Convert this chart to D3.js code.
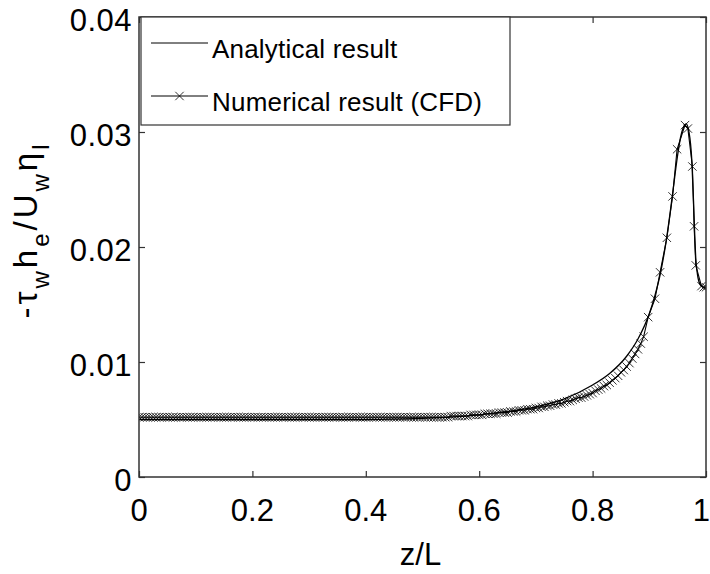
<!DOCTYPE html>
<html>
<head>
<meta charset="utf-8">
<script src="https://cdn.jsdelivr.net/npm/d3@7"></script>
<style>
  html, body { margin: 0; padding: 0; background: #fff; }
  svg { display: block; }
  text { font-family: "Liberation Sans", Arial, Helvetica, sans-serif; fill: #000; }
</style>
</head>
<body>
<svg id="chart" width="710" height="574"></svg>
<script>
// ---------- data ----------
const xTicks = [0, 0.2, 0.4, 0.6, 0.8, 1];
const xTickLabels = ["0", "0.2", "0.4", "0.6", "0.8", "1"];
const yTicks = [0, 0.01, 0.02, 0.03, 0.04];
const yTickLabels = ["0", "0.01", "0.02", "0.03", "0.04"];
const seriesNames = ["Analytical result", "Numerical result (CFD)"];
const xTitle = "z/L";

// Analytical result (solid line)
const analyticZ = [0, 0.1, 0.2, 0.3, 0.4, 0.5, 0.55, 0.6, 0.65, 0.7, 0.75, 0.8, 0.83, 0.86, 0.88, 0.9,
  0.91, 0.92, 0.93, 0.94, 0.95, 0.955, 0.96, 0.965, 0.97, 0.975, 0.978, 0.98, 0.982, 0.985, 0.99, 0.995, 1.0];
const analyticV = [0.0050, 0.0050, 0.0050, 0.0050, 0.0050, 0.0051, 0.0052, 0.0054, 0.0057, 0.0061, 0.0068, 0.0080, 0.0090, 0.0105, 0.0120, 0.0142,
  0.0158, 0.0178, 0.0206, 0.0242, 0.0280, 0.0295, 0.0304, 0.0307, 0.0300, 0.0275, 0.0240, 0.0212, 0.0190, 0.0176, 0.0167, 0.0165, 0.0164];

// Numerical result (CFD), line with x markers
const cfdZ = [
  0.000, 0.005, 0.010, 0.015, 0.020, 0.025, 0.030, 0.035, 0.040, 0.045,
  0.050, 0.055, 0.060, 0.065, 0.070, 0.075, 0.080, 0.085, 0.090, 0.095,
  0.100, 0.105, 0.110, 0.115, 0.120, 0.125, 0.130, 0.135, 0.140, 0.145,
  0.150, 0.155, 0.160, 0.165, 0.170, 0.175, 0.180, 0.185, 0.190, 0.195,
  0.200, 0.205, 0.210, 0.215, 0.220, 0.225, 0.230, 0.235, 0.240, 0.245,
  0.250, 0.255, 0.260, 0.265, 0.270, 0.275, 0.280, 0.285, 0.290, 0.295,
  0.300, 0.305, 0.310, 0.315, 0.320, 0.325, 0.330, 0.335, 0.340, 0.345,
  0.350, 0.355, 0.360, 0.365, 0.370, 0.375, 0.380, 0.385, 0.390, 0.395,
  0.400, 0.405, 0.410, 0.415, 0.420, 0.425, 0.430, 0.435, 0.440, 0.445,
  0.450, 0.455, 0.460, 0.465, 0.470, 0.475, 0.480, 0.485, 0.490, 0.495,
  0.500, 0.505, 0.510, 0.515, 0.520, 0.525, 0.530, 0.535, 0.540, 0.545,
  0.550, 0.555, 0.560, 0.565, 0.570, 0.575, 0.580, 0.585, 0.590, 0.595,
  0.600, 0.605, 0.610, 0.615, 0.620, 0.625, 0.630, 0.635, 0.640, 0.645,
  0.650, 0.655, 0.660, 0.665, 0.670, 0.675, 0.680, 0.685, 0.690, 0.695,
  0.700, 0.705, 0.710, 0.715, 0.720, 0.725, 0.730, 0.735, 0.740, 0.745,
  0.750, 0.755, 0.760, 0.765, 0.770, 0.775, 0.780, 0.785, 0.790, 0.795,
  0.800, 0.805, 0.810, 0.815, 0.820, 0.825, 0.830, 0.835, 0.840, 0.845,
  0.850, 0.855, 0.860, 0.865, 0.870, 0.875, 0.880, 0.885, 0.890,
  0.898, 0.910, 0.919, 0.931, 0.941, 0.949, 0.963, 0.968, 0.976, 0.979, 0.982, 0.992, 0.996, 1.000
];
const cfdV = [
  0.0052, 0.0052, 0.0052, 0.0052, 0.0052, 0.0052, 0.0052, 0.0052, 0.0052, 0.0052,
  0.0052, 0.0052, 0.0052, 0.0052, 0.0052, 0.0052, 0.0052, 0.0052, 0.0052, 0.0052,
  0.0052, 0.0052, 0.0052, 0.0052, 0.0052, 0.0052, 0.0052, 0.0052, 0.0052, 0.0052,
  0.0052, 0.0052, 0.0052, 0.0052, 0.0052, 0.0052, 0.0052, 0.0052, 0.0052, 0.0052,
  0.0052, 0.0052, 0.0052, 0.0052, 0.0052, 0.0052, 0.0052, 0.0052, 0.0052, 0.0052,
  0.0052, 0.0052, 0.0052, 0.0052, 0.0052, 0.0052, 0.0052, 0.0052, 0.0052, 0.0052,
  0.0052, 0.0052, 0.0052, 0.0052, 0.0052, 0.0052, 0.0052, 0.0052, 0.0052, 0.0052,
  0.0052, 0.0052, 0.0052, 0.0052, 0.0052, 0.0052, 0.0052, 0.0052, 0.0052, 0.0052,
  0.0052, 0.0052, 0.0052, 0.0052, 0.0052, 0.0052, 0.0052, 0.0052, 0.0052, 0.0052,
  0.0052, 0.0052, 0.0052, 0.0052, 0.0052, 0.0052, 0.0052, 0.0052, 0.0052, 0.0052,
  0.0052, 0.0052, 0.0052, 0.0052, 0.0052, 0.0052, 0.0052, 0.0052, 0.0052, 0.0052,
  0.0053, 0.0053, 0.0053, 0.0053, 0.0053, 0.0053, 0.0053, 0.0054, 0.0054, 0.0054,
  0.0054, 0.0054, 0.0055, 0.0055, 0.0055, 0.0055, 0.0055, 0.0056, 0.0056, 0.0056,
  0.0056, 0.0057, 0.0057, 0.0057, 0.0058, 0.0058, 0.0058, 0.0059, 0.0059, 0.0059,
  0.0060, 0.0060, 0.0061, 0.0061, 0.0062, 0.0062, 0.0063, 0.0063, 0.0064, 0.0064,
  0.0065, 0.0066, 0.0066, 0.0067, 0.0068, 0.0069, 0.0069, 0.0070, 0.0071, 0.0072,
  0.0073, 0.0075, 0.0076, 0.0077, 0.0079, 0.0080, 0.0082, 0.0084, 0.0086, 0.0088,
  0.0091, 0.0093, 0.0096, 0.0099, 0.0103, 0.0107, 0.0111, 0.0116, 0.0122,
  0.0139, 0.0155, 0.0178, 0.0208, 0.0244, 0.0285, 0.0306, 0.0303, 0.0270, 0.0218, 0.0184, 0.0166, 0.0165, 0.0165
];

// ---------- layout ----------
const W = 710, H = 574;
const plot = { left: 139, right: 706, top: 17, bottom: 477 };
const axisColor = "#333";
const tickLen = 6;

const svg = d3.select("#chart");

const x = d3.scaleLinear().domain([0, 1]).range([plot.left, plot.right]);
const y = d3.scaleLinear().domain([0, 0.04]).range([plot.bottom, plot.top]);

const analytic = analyticZ.map((z, i) => ({ z, v: analyticV[i] }));
const cfd = cfdZ.map((z, i) => ({ z, v: cfdV[i] }));

// clip
svg.append("defs").append("clipPath").attr("id", "clip")
  .append("rect").attr("x", plot.left).attr("y", plot.top)
  .attr("width", plot.right - plot.left).attr("height", plot.bottom - plot.top);

const g = svg.append("g").attr("clip-path", "url(#clip)");

const line = d3.line().x(d => x(d.z)).y(d => y(d.v));
const smooth = d3.line().x(d => x(d.z)).y(d => y(d.v)).curve(d3.curveMonotoneX);

// analytical line
g.append("path").datum(analytic).attr("d", smooth)
  .attr("fill", "none").attr("stroke", "#000").attr("stroke-width", 1.3);

// numerical line
g.append("path").datum(cfd).attr("d", line)
  .attr("fill", "none").attr("stroke", "#000").attr("stroke-width", 1.1);

// x markers
const ms = 4.2;
const crossPath = (cx, cy) => `M${cx - ms},${cy - ms}L${cx + ms},${cy + ms}M${cx - ms},${cy + ms}L${cx + ms},${cy - ms}`;
g.append("g").selectAll("path").data(cfd).join("path")
  .attr("d", d => crossPath(x(d.z), y(d.v)))
  .attr("fill", "none").attr("stroke", "#000").attr("stroke-width", 0.8);

// ---------- axes (MATLAB-style box with inward ticks) ----------
const axG = svg.append("g");
const xAxisB = d3.axisBottom(x).tickValues(xTicks).tickSize(-tickLen).tickFormat("");
const xAxisT = d3.axisTop(x).tickValues(xTicks).tickSize(-tickLen).tickFormat("");
const yAxisL = d3.axisLeft(y).tickValues(yTicks).tickSize(-tickLen).tickFormat("");
const yAxisR = d3.axisRight(y).tickValues(yTicks).tickSize(-tickLen).tickFormat("");

axG.append("g").attr("transform", `translate(0,${plot.bottom})`).call(xAxisB);
axG.append("g").attr("transform", `translate(0,${plot.top})`).call(xAxisT);
axG.append("g").attr("transform", `translate(${plot.left},0)`).call(yAxisL);
axG.append("g").attr("transform", `translate(${plot.right},0)`).call(yAxisR);
axG.selectAll(".domain").remove();
axG.selectAll(".tick line").attr("stroke", axisColor).attr("stroke-width", 1.2);

svg.append("rect").attr("x", plot.left).attr("y", plot.top)
  .attr("width", plot.right - plot.left).attr("height", plot.bottom - plot.top)
  .attr("fill", "none").attr("stroke", axisColor).attr("stroke-width", 1.5);

// tick labels
const tickFont = 31;
svg.append("g").selectAll("text").data(xTicks).join("text")
  .attr("x", (d, i) => i === xTicks.length - 1 ? W : x(d))
  .attr("y", plot.bottom + 44)
  .attr("text-anchor", (d, i) => i === xTicks.length - 1 ? "end" : "middle")
  .attr("font-size", tickFont)
  .text((d, i) => xTickLabels[i]);

svg.append("g").selectAll("text").data(yTicks).join("text")
  .attr("x", plot.left - 7).attr("y", d => y(d) + 14)
  .attr("text-anchor", "end").attr("font-size", tickFont)
  .attr("letter-spacing", 0.5)
  .text((d, i) => yTickLabels[i]);

// axis titles
svg.append("text").attr("x", (plot.left + plot.right) / 2 - 2).attr("y", 565)
  .attr("text-anchor", "middle").attr("font-size", 31).text(xTitle);

const yl = svg.append("text")
  .attr("transform", `translate(37,230) rotate(-90)`)
  .attr("text-anchor", "middle").attr("font-size", 33).attr("letter-spacing", 3);
const ylParts = [
  { t: "-τ", sub: false }, { t: "w", sub: true }, { t: "h", sub: false }, { t: "e", sub: true },
  { t: "/U", sub: false }, { t: "w", sub: true }, { t: "η", sub: false }, { t: "l", sub: true }
];
let prevSub = false;
ylParts.forEach(p => {
  const ts = yl.append("tspan").text(p.t);
  if (p.sub && !prevSub) ts.attr("dy", 12).attr("font-size", 24);
  else if (!p.sub && prevSub) ts.attr("dy", -12);
  else if (p.sub) ts.attr("font-size", 24);
  prevSub = p.sub;
});

// ---------- legend ----------
const leg = svg.append("g");
leg.append("rect").attr("x", 141).attr("y", plot.top).attr("width", 369).attr("height", 108)
  .attr("fill", "#fff").attr("stroke", axisColor).attr("stroke-width", 1.2);
const legRows = [43, 96];
legRows.forEach((ly, i) => {
  leg.append("line").attr("x1", 151).attr("x2", 208).attr("y1", ly).attr("y2", ly)
    .attr("stroke", "#000").attr("stroke-width", 1);
  if (i === 1) {
    leg.append("path").attr("d", crossPath(179.5, ly)).attr("stroke", "#000").attr("stroke-width", 0.8);
  }
  leg.append("text").attr("x", 212).attr("y", ly + 15).attr("font-size", 26)
    .attr("letter-spacing", 0.2)
    .text(seriesNames[i]);
});
</script>
</body>
</html>
